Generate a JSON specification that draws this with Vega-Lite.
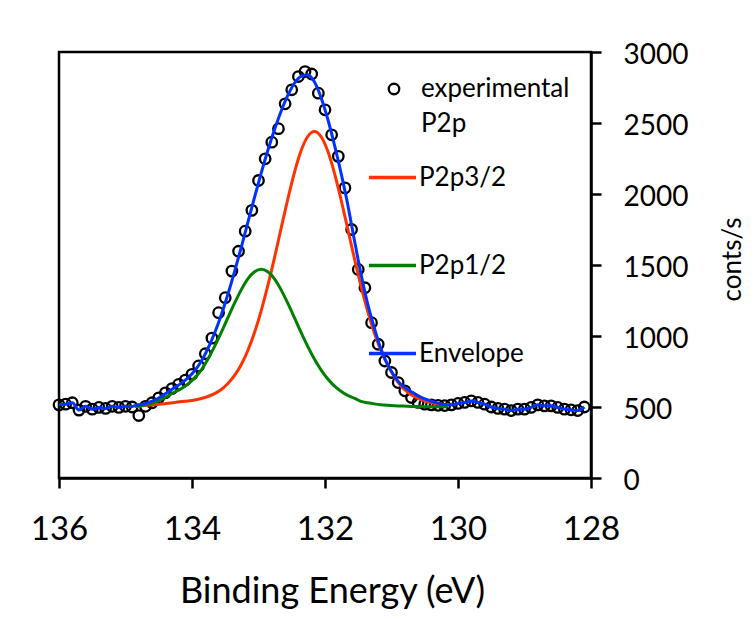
{
  "$schema": "https://vega.github.io/schema/vega-lite/v6.json",
  "width": 532,
  "height": 426,
  "autosize": {"type": "none"},
  "padding": {"left": 59, "top": 52, "right": 163, "bottom": 143},
  "background": "white",
  "config": {
    "font": "Lato",
    "view": {"stroke": "black", "strokeWidth": 2.5},
    "style": {"guide-label": {"lineHeight": 35}},
    "axis": {"domainColor": "black", "domainWidth": 2.5, "tickColor": "black", "tickWidth": 2.5, "labelColor": "black", "titleColor": "black", "grid": false, "labelFont": "Lato", "titleFont": "Lato", "titleFontWeight": "normal"},
    "legend": {"labelFont": "Lato", "labelColor": "black"}
  },
  "datasets": {
    "exp": [
      {"E": 136.0, "cps": 515}, {"E": 135.9, "cps": 520}, {"E": 135.8, "cps": 530}, {"E": 135.7, "cps": 478},
      {"E": 135.6, "cps": 505}, {"E": 135.5, "cps": 485}, {"E": 135.4, "cps": 497}, {"E": 135.3, "cps": 490},
      {"E": 135.2, "cps": 505}, {"E": 135.1, "cps": 497}, {"E": 135.0, "cps": 505}, {"E": 134.9, "cps": 500},
      {"E": 134.8, "cps": 440}, {"E": 134.7, "cps": 505}, {"E": 134.6, "cps": 530}, {"E": 134.5, "cps": 565},
      {"E": 134.4, "cps": 600}, {"E": 134.3, "cps": 630}, {"E": 134.2, "cps": 660}, {"E": 134.1, "cps": 690},
      {"E": 134.0, "cps": 730}, {"E": 133.9, "cps": 789}, {"E": 133.8, "cps": 875}, {"E": 133.7, "cps": 985},
      {"E": 133.6, "cps": 1164}, {"E": 133.5, "cps": 1270}, {"E": 133.4, "cps": 1457}, {"E": 133.3, "cps": 1597},
      {"E": 133.2, "cps": 1738}, {"E": 133.1, "cps": 1885}, {"E": 133.0, "cps": 2095}, {"E": 132.9, "cps": 2248},
      {"E": 132.8, "cps": 2365}, {"E": 132.7, "cps": 2460}, {"E": 132.6, "cps": 2635}, {"E": 132.5, "cps": 2734},
      {"E": 132.4, "cps": 2827}, {"E": 132.3, "cps": 2862}, {"E": 132.2, "cps": 2845}, {"E": 132.1, "cps": 2710},
      {"E": 132.0, "cps": 2593}, {"E": 131.9, "cps": 2417}, {"E": 131.8, "cps": 2265}, {"E": 131.7, "cps": 2043},
      {"E": 131.6, "cps": 1750}, {"E": 131.5, "cps": 1469}, {"E": 131.4, "cps": 1340}, {"E": 131.3, "cps": 1094},
      {"E": 131.2, "cps": 942}, {"E": 131.1, "cps": 824}, {"E": 131.0, "cps": 743}, {"E": 130.9, "cps": 672},
      {"E": 130.8, "cps": 614}, {"E": 130.7, "cps": 567}, {"E": 130.6, "cps": 532}, {"E": 130.5, "cps": 520},
      {"E": 130.4, "cps": 515}, {"E": 130.3, "cps": 512}, {"E": 130.2, "cps": 510}, {"E": 130.1, "cps": 515},
      {"E": 130.0, "cps": 525}, {"E": 129.9, "cps": 532}, {"E": 129.8, "cps": 543}, {"E": 129.7, "cps": 532},
      {"E": 129.6, "cps": 520}, {"E": 129.5, "cps": 500}, {"E": 129.4, "cps": 490}, {"E": 129.3, "cps": 485},
      {"E": 129.2, "cps": 475}, {"E": 129.1, "cps": 485}, {"E": 129.0, "cps": 485}, {"E": 128.9, "cps": 497},
      {"E": 128.8, "cps": 515}, {"E": 128.7, "cps": 508}, {"E": 128.6, "cps": 508}, {"E": 128.5, "cps": 497},
      {"E": 128.4, "cps": 485}, {"E": 128.3, "cps": 480}, {"E": 128.2, "cps": 475}, {"E": 128.1, "cps": 500}
    ],
    "fit": [
      {"series": "P2p3/2", "E": 134.86, "cps": 504}, {"series": "P2p3/2", "E": 134.76, "cps": 508},
      {"series": "P2p3/2", "E": 134.66, "cps": 512}, {"series": "P2p3/2", "E": 134.56, "cps": 516},
      {"series": "P2p3/2", "E": 134.46, "cps": 521}, {"series": "P2p3/2", "E": 134.36, "cps": 526},
      {"series": "P2p3/2", "E": 134.26, "cps": 531}, {"series": "P2p3/2", "E": 134.16, "cps": 538},
      {"series": "P2p3/2", "E": 134.06, "cps": 543}, {"series": "P2p3/2", "E": 133.96, "cps": 550},
      {"series": "P2p3/2", "E": 133.86, "cps": 560}, {"series": "P2p3/2", "E": 133.76, "cps": 574},
      {"series": "P2p3/2", "E": 133.66, "cps": 594}, {"series": "P2p3/2", "E": 133.56, "cps": 623},
      {"series": "P2p3/2", "E": 133.46, "cps": 665}, {"series": "P2p3/2", "E": 133.36, "cps": 722},
      {"series": "P2p3/2", "E": 133.26, "cps": 798}, {"series": "P2p3/2", "E": 133.16, "cps": 898},
      {"series": "P2p3/2", "E": 133.06, "cps": 1024}, {"series": "P2p3/2", "E": 132.96, "cps": 1177},
      {"series": "P2p3/2", "E": 132.86, "cps": 1354}, {"series": "P2p3/2", "E": 132.76, "cps": 1550},
      {"series": "P2p3/2", "E": 132.66, "cps": 1758}, {"series": "P2p3/2", "E": 132.56, "cps": 1963},
      {"series": "P2p3/2", "E": 132.46, "cps": 2151}, {"series": "P2p3/2", "E": 132.36, "cps": 2304},
      {"series": "P2p3/2", "E": 132.26, "cps": 2405}, {"series": "P2p3/2", "E": 132.16, "cps": 2440},
      {"series": "P2p3/2", "E": 132.06, "cps": 2405}, {"series": "P2p3/2", "E": 131.96, "cps": 2304},
      {"series": "P2p3/2", "E": 131.86, "cps": 2151}, {"series": "P2p3/2", "E": 131.76, "cps": 1963},
      {"series": "P2p3/2", "E": 131.66, "cps": 1758}, {"series": "P2p3/2", "E": 131.56, "cps": 1550},
      {"series": "P2p3/2", "E": 131.46, "cps": 1354}, {"series": "P2p3/2", "E": 131.36, "cps": 1177},
      {"series": "P2p3/2", "E": 131.26, "cps": 1024}, {"series": "P2p3/2", "E": 131.16, "cps": 898},
      {"series": "P2p3/2", "E": 131.06, "cps": 798}, {"series": "P2p3/2", "E": 130.96, "cps": 715},
      {"series": "P2p3/2", "E": 130.86, "cps": 650}, {"series": "P2p3/2", "E": 130.76, "cps": 605},
      {"series": "P2p3/2", "E": 130.66, "cps": 575}, {"series": "P2p3/2", "E": 130.56, "cps": 553},
      {"series": "P2p3/2", "E": 130.46, "cps": 538}, {"series": "P2p3/2", "E": 130.36, "cps": 527},
      {"series": "P2p3/2", "E": 130.26, "cps": 519}, {"series": "P2p3/2", "E": 130.16, "cps": 513},

      {"series": "P2p1/2", "E": 134.86, "cps": 506}, {"series": "P2p1/2", "E": 134.76, "cps": 510},
      {"series": "P2p1/2", "E": 134.66, "cps": 518}, {"series": "P2p1/2", "E": 134.56, "cps": 532},
      {"series": "P2p1/2", "E": 134.46, "cps": 554}, {"series": "P2p1/2", "E": 134.36, "cps": 579},
      {"series": "P2p1/2", "E": 134.26, "cps": 606}, {"series": "P2p1/2", "E": 134.16, "cps": 630},
      {"series": "P2p1/2", "E": 134.06, "cps": 662}, {"series": "P2p1/2", "E": 133.96, "cps": 705},
      {"series": "P2p1/2", "E": 133.86, "cps": 762}, {"series": "P2p1/2", "E": 133.76, "cps": 838},
      {"series": "P2p1/2", "E": 133.66, "cps": 927}, {"series": "P2p1/2", "E": 133.56, "cps": 1025},
      {"series": "P2p1/2", "E": 133.46, "cps": 1129}, {"series": "P2p1/2", "E": 133.36, "cps": 1231},
      {"series": "P2p1/2", "E": 133.26, "cps": 1325}, {"series": "P2p1/2", "E": 133.16, "cps": 1402},
      {"series": "P2p1/2", "E": 133.06, "cps": 1452}, {"series": "P2p1/2", "E": 132.96, "cps": 1470},
      {"series": "P2p1/2", "E": 132.86, "cps": 1452}, {"series": "P2p1/2", "E": 132.76, "cps": 1402},
      {"series": "P2p1/2", "E": 132.66, "cps": 1325}, {"series": "P2p1/2", "E": 132.56, "cps": 1231},
      {"series": "P2p1/2", "E": 132.46, "cps": 1129}, {"series": "P2p1/2", "E": 132.36, "cps": 1025},
      {"series": "P2p1/2", "E": 132.26, "cps": 927}, {"series": "P2p1/2", "E": 132.16, "cps": 838},
      {"series": "P2p1/2", "E": 132.06, "cps": 762}, {"series": "P2p1/2", "E": 131.96, "cps": 699},
      {"series": "P2p1/2", "E": 131.86, "cps": 649}, {"series": "P2p1/2", "E": 131.76, "cps": 611},
      {"series": "P2p1/2", "E": 131.66, "cps": 582}, {"series": "P2p1/2", "E": 131.56, "cps": 562},
      {"series": "P2p1/2", "E": 131.46, "cps": 540}, {"series": "P2p1/2", "E": 131.36, "cps": 530},
      {"series": "P2p1/2", "E": 131.26, "cps": 522}, {"series": "P2p1/2", "E": 131.16, "cps": 516},
      {"series": "P2p1/2", "E": 131.06, "cps": 512}, {"series": "P2p1/2", "E": 130.96, "cps": 509},
      {"series": "P2p1/2", "E": 130.86, "cps": 507}, {"series": "P2p1/2", "E": 130.76, "cps": 505},
      {"series": "P2p1/2", "E": 130.66, "cps": 504}, {"series": "P2p1/2", "E": 130.56, "cps": 503},
      {"series": "P2p1/2", "E": 130.46, "cps": 502}, {"series": "P2p1/2", "E": 130.36, "cps": 502},
      {"series": "P2p1/2", "E": 130.26, "cps": 501}, {"series": "P2p1/2", "E": 130.16, "cps": 501},

      {"series": "Envelope", "E": 136.0, "cps": 515}, {"series": "Envelope", "E": 135.9, "cps": 520},
      {"series": "Envelope", "E": 135.8, "cps": 530}, {"series": "Envelope", "E": 135.7, "cps": 478},
      {"series": "Envelope", "E": 135.6, "cps": 505}, {"series": "Envelope", "E": 135.5, "cps": 485},
      {"series": "Envelope", "E": 135.4, "cps": 497}, {"series": "Envelope", "E": 135.3, "cps": 490},
      {"series": "Envelope", "E": 135.2, "cps": 505}, {"series": "Envelope", "E": 135.1, "cps": 497},
      {"series": "Envelope", "E": 135.0, "cps": 505}, {"series": "Envelope", "E": 134.9, "cps": 503},
      {"series": "Envelope", "E": 134.86, "cps": 510}, {"series": "Envelope", "E": 134.76, "cps": 518},
      {"series": "Envelope", "E": 134.66, "cps": 530}, {"series": "Envelope", "E": 134.56, "cps": 548},
      {"series": "Envelope", "E": 134.46, "cps": 575}, {"series": "Envelope", "E": 134.36, "cps": 605},
      {"series": "Envelope", "E": 134.26, "cps": 637}, {"series": "Envelope", "E": 134.16, "cps": 668},
      {"series": "Envelope", "E": 134.06, "cps": 705}, {"series": "Envelope", "E": 133.96, "cps": 755},
      {"series": "Envelope", "E": 133.86, "cps": 822}, {"series": "Envelope", "E": 133.76, "cps": 912},
      {"series": "Envelope", "E": 133.66, "cps": 1021}, {"series": "Envelope", "E": 133.56, "cps": 1148},
      {"series": "Envelope", "E": 133.46, "cps": 1294}, {"series": "Envelope", "E": 133.36, "cps": 1453},
      {"series": "Envelope", "E": 133.26, "cps": 1623}, {"series": "Envelope", "E": 133.16, "cps": 1800},
      {"series": "Envelope", "E": 133.06, "cps": 1976}, {"series": "Envelope", "E": 132.96, "cps": 2147},
      {"series": "Envelope", "E": 132.86, "cps": 2306}, {"series": "Envelope", "E": 132.76, "cps": 2452},
      {"series": "Envelope", "E": 132.66, "cps": 2583}, {"series": "Envelope", "E": 132.56, "cps": 2694},
      {"series": "Envelope", "E": 132.46, "cps": 2780}, {"series": "Envelope", "E": 132.36, "cps": 2829},
      {"series": "Envelope", "E": 132.26, "cps": 2840}, {"series": "Envelope", "E": 132.16, "cps": 2790},
      {"series": "Envelope", "E": 132.06, "cps": 2680}, {"series": "Envelope", "E": 131.96, "cps": 2530},
      {"series": "Envelope", "E": 131.86, "cps": 2350}, {"series": "Envelope", "E": 131.76, "cps": 2150},
      {"series": "Envelope", "E": 131.66, "cps": 1930}, {"series": "Envelope", "E": 131.56, "cps": 1680},
      {"series": "Envelope", "E": 131.46, "cps": 1440}, {"series": "Envelope", "E": 131.36, "cps": 1230},
      {"series": "Envelope", "E": 131.26, "cps": 1060}, {"series": "Envelope", "E": 131.16, "cps": 910},
      {"series": "Envelope", "E": 131.06, "cps": 800}, {"series": "Envelope", "E": 130.96, "cps": 720},
      {"series": "Envelope", "E": 130.86, "cps": 660}, {"series": "Envelope", "E": 130.76, "cps": 625},
      {"series": "Envelope", "E": 130.66, "cps": 595}, {"series": "Envelope", "E": 130.56, "cps": 570},
      {"series": "Envelope", "E": 130.46, "cps": 550}, {"series": "Envelope", "E": 130.36, "cps": 535},
      {"series": "Envelope", "E": 130.26, "cps": 522}, {"series": "Envelope", "E": 130.16, "cps": 515},
      {"series": "Envelope", "E": 130.1, "cps": 515}, {"series": "Envelope", "E": 130.0, "cps": 525},
      {"series": "Envelope", "E": 129.9, "cps": 532}, {"series": "Envelope", "E": 129.8, "cps": 543},
      {"series": "Envelope", "E": 129.7, "cps": 532}, {"series": "Envelope", "E": 129.6, "cps": 520},
      {"series": "Envelope", "E": 129.5, "cps": 500}, {"series": "Envelope", "E": 129.4, "cps": 490},
      {"series": "Envelope", "E": 129.3, "cps": 485}, {"series": "Envelope", "E": 129.2, "cps": 475},
      {"series": "Envelope", "E": 129.1, "cps": 485}, {"series": "Envelope", "E": 129.0, "cps": 485},
      {"series": "Envelope", "E": 128.9, "cps": 497}, {"series": "Envelope", "E": 128.8, "cps": 515},
      {"series": "Envelope", "E": 128.7, "cps": 508}, {"series": "Envelope", "E": 128.6, "cps": 508},
      {"series": "Envelope", "E": 128.5, "cps": 497}, {"series": "Envelope", "E": 128.4, "cps": 485},
      {"series": "Envelope", "E": 128.3, "cps": 480}, {"series": "Envelope", "E": 128.2, "cps": 475},
      {"series": "Envelope", "E": 128.1, "cps": 500}
    ]
  },
  "encoding": {
    "x": {
      "field": "E", "type": "quantitative",
      "scale": {"domain": [128, 136], "reverse": true, "nice": false, "zero": false},
      "axis": {
        "orient": "bottom", "values": [136, 134, 132, 130, 128], "tickSize": 10, "format": "d",
        "labelFontSize": 33, "labelPadding": 25, "labelFlush": false, "labelOverlap": false,
        "title": "Binding Energy (eV)", "titleFontSize": 36, "titleX": 273, "titleY": 124,
        "titleBaseline": "alphabetic", "titleAlign": "center"
      }
    },
    "y": {
      "field": "cps", "type": "quantitative",
      "scale": {"domain": [0, 3000], "nice": false},
      "axis": {
        "orient": "right", "values": [0, 500, 1000, 1500, 2000, 2500, 3000], "tickSize": 10, "format": "d",
        "labelFontSize": 28, "labelPadding": 22, "labelBaseline": "middle", "labelOffset": 3,
        "labelOverlap": false, "labelBound": false,
        "title": "conts/s", "titleFontSize": 26, "titleAngle": 270, "titleX": 141, "titleY": 207,
        "titleBaseline": "middle", "titleAlign": "center"
      }
    }
  },
  "layer": [
    {
      "data": {"name": "exp"},
      "mark": {"type": "point", "filled": false, "stroke": "black", "strokeWidth": 2.3, "size": 110, "opacity": 1},
      "encoding": {
        "shape": {
          "datum": "experimental P2p",
          "scale": {"range": ["circle"]},
          "legend": {
            "orient": "none", "legendX": 322, "legendY": 24, "title": null, "padding": 0,
            "symbolType": "circle", "symbolSize": 110, "symbolStrokeColor": "black", "symbolFillColor": "transparent",
            "symbolStrokeWidth": 2.3, "labelFontSize": 26, "labelOffset": 14, "labelLimit": 400,
            "labelExpr": "['experimental', 'P2p']"
          }
        }
      }
    },
    {
      "data": {"name": "fit"},
      "mark": {"type": "line", "strokeWidth": 3, "interpolate": "monotone"},
      "encoding": {
        "color": {
          "field": "series", "type": "nominal",
          "scale": {"domain": ["P2p3/2", "P2p1/2", "Envelope"], "range": ["#FF3300", "#008000", "#0033FF"]},
          "legend": {
            "orient": "none", "legendX": 308, "legendY": 100, "title": null, "padding": 0,
            "symbolType": "stroke", "symbolSize": 2209, "symbolStrokeWidth": 3.5,
            "rowPadding": 49, "labelFontSize": 26, "labelOffset": 1, "labelLimit": 400
          }
        }
      }
    }
  ]
}
